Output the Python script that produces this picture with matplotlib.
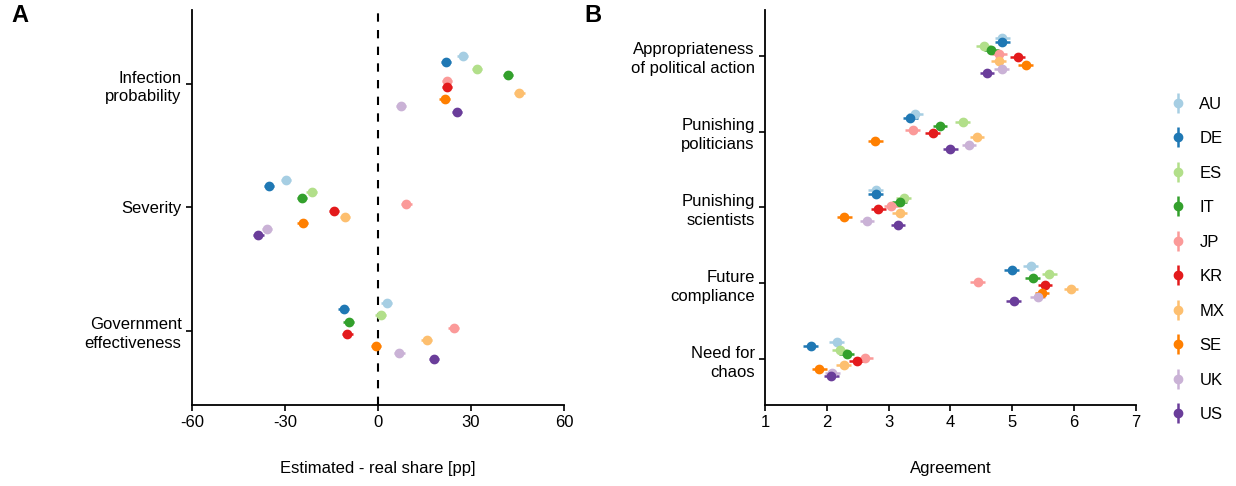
import numpy as np
import matplotlib.pyplot as plt
from matplotlib.container import ErrorbarContainer
from matplotlib.legend_handler import HandlerErrorbar

plt.rcParams['font.family'] = ['Liberation Sans', 'DejaVu Sans']
plt.rcParams['font.size'] = 12
plt.rcParams['axes.unicode_minus'] = False

countries = ['AU', 'DE', 'ES', 'IT', 'JP', 'KR', 'MX', 'SE', 'UK', 'US']
colors = ['#a6cee3', '#1f78b4', '#b2df8a', '#33a02c', '#fb9a99',
          '#e31a1c', '#fdbf6f', '#ff7f00', '#cab2d6', '#6a3d9a']

# panel A: estimated minus real share, percentage points
items_a = ['Infection\nprobability', 'Severity', 'Government\neffectiveness']
infection = [27.3, 21.9, 32.0, 42.0, 22.2, 22.2, 45.6, 21.5, 7.4, 25.5]
severity = [-29.7, -35.2, -21.4, -24.5, 9.2, -14.2, -10.6, -24.3, -35.8, -38.6]
government = [2.8, -11.1, 0.9, -9.5, 24.4, -9.9, 15.7, -0.6, 6.9, 18.1]
err_a = 1.7

# panel B: agreement, 1-7 scale
items_b = ['Appropriateness\nof political action', 'Punishing\npoliticians',
           'Punishing\nscientists', 'Future\ncompliance', 'Need for\nchaos']
appropriateness = [4.84, 4.84, 4.54, 4.66, 4.79, 5.09, 4.78, 5.22, 4.83, 4.59]
pun_politicians = [3.43, 3.35, 4.20, 3.83, 3.39, 3.71, 4.43, 2.78, 4.30, 4.00]
pun_scientists = [2.79, 2.79, 3.24, 3.18, 3.04, 2.83, 3.18, 2.28, 2.65, 3.15]
compliance = [5.30, 4.99, 5.60, 5.33, 4.44, 5.53, 5.95, 5.48, 5.41, 5.02]
chaos = [2.16, 1.74, 2.21, 2.32, 2.62, 2.48, 2.27, 1.88, 2.09, 2.07]
err_b = 0.12

vals_a = np.array([infection, severity, government])
vals_b = np.array([appropriateness, pun_politicians, pun_scientists, compliance, chaos])

fig = plt.figure(figsize=(12.36, 4.86), dpi=100)
axA = fig.add_axes([0.1553, 0.1667, 0.301, 0.8128])
axB = fig.add_axes([0.619, 0.1667, 0.300, 0.8128])

offs = (np.arange(len(countries)) - 4.5) * 0.05

def dodge_plot(ax, vals, err):
    pos = np.arange(vals.shape[0])
    for i, c in enumerate(countries):
        ax.errorbar(vals[:, i], pos + offs[i], xerr=err, fmt='o', color=colors[i],
                    ms=6, elinewidth=1.8, capsize=0, zorder=3)

dodge_plot(axA, vals_a, err_a)
dodge_plot(axB, vals_b, err_b)

axA.axvline(0, color='black', ls=(0, (4, 4)), lw=1.5, zorder=1)

for ax, items in [(axA, items_a), (axB, items_b)]:
    ax.set_yticks(np.arange(len(items)))
    ax.set_yticklabels(items, ha='right', multialignment='right', linespacing=1.3)
    ax.set_ylim(len(items) - 1 + 0.6, -0.6)
    for s in ['top', 'right']:
        ax.spines[s].set_visible(False)
    for s in ['left', 'bottom']:
        ax.spines[s].set_linewidth(1.3)
    ax.tick_params(length=4, width=1.2, labelsize=12, colors='black')

axA.set_xlim(-60, 60)
axA.set_xticks([-60, -30, 0, 30, 60])
axA.set_xlabel('Estimated - real share [pp]', labelpad=22)

axB.set_xlim(1, 7)
axB.set_xticks(range(1, 8))
axB.set_xlabel('Agreement', labelpad=22)

fig.text(0.009, 0.955, 'A', fontsize=17, fontweight='bold')
fig.text(0.473, 0.955, 'B', fontsize=17, fontweight='bold')

# legend keys drawn as vertical point ranges
handles = [axB.errorbar([np.nan], [np.nan], yerr=[1], fmt='o', color=col,
                        ms=6, elinewidth=1.8, capsize=0) for col in colors]
fig.legend(handles, countries, loc='center left', bbox_to_anchor=(0.934, 0.466),
           frameon=False, handlelength=1.0, handletextpad=0.8, labelspacing=1.17,
           fontsize=12, handler_map={ErrorbarContainer: HandlerErrorbar(yerr_size=0.6)})

fig.savefig('out.png', dpi=100)
